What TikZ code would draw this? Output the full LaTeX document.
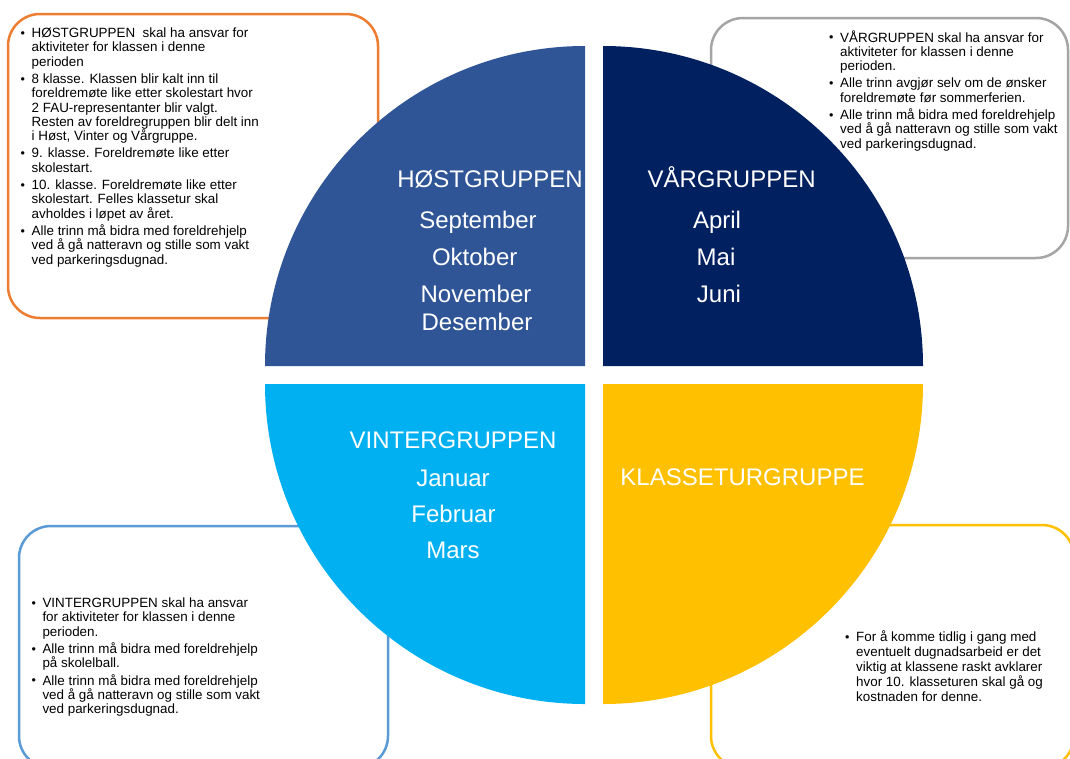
\documentclass[tikz,border=0pt]{standalone}
\usepackage{fontspec}
\setmainfont{Liberation Sans}
\definecolor{cOrange}{HTML}{ED7D31}
\definecolor{cGray}{HTML}{A5A5A5}
\definecolor{cLblue}{HTML}{5B9BD5}
\definecolor{cYellow}{HTML}{FFC000}
\definecolor{qTL}{HTML}{2F5597}
\definecolor{qTR}{HTML}{002060}
\definecolor{qBL}{HTML}{00B0F0}
\definecolor{qBR}{HTML}{FFC000}
\newcommand\bitem{\par\hangindent=11pt\hangafter=1\noindent\makebox[11pt][l]{\raisebox{0.3pt}{\fontsize{12.5}{12}\selectfont •}}}
\newcommand\boxtext[3]{\begin{minipage}[t]{#1}\setlength\parskip{3pt}\fontsize{13.4}{#2}\selectfont #3\end{minipage}}
\tikzset{
  infobox/.style={line width=2.5pt, fill=white, rounded corners=32pt},
  bigtext/.style={anchor=base, inner sep=0pt, text=white, font=\fontsize{24}{28}\selectfont},
  smalltext/.style={anchor=base west, inner sep=0pt, text=black}
}
\begin{document}
\begin{tikzpicture}[x=1pt,y=1pt]
\useasboundingbox (0,0) rectangle (1070,-758);
\clip (0,0) rectangle (1070,-758);
\fill[white] (0,0) rectangle (1070,-758);

% info boxes
\draw[infobox, draw=cOrange] (8,-14) rectangle (378,-318);
\draw[infobox, draw=cGray] (711,-18) rectangle (1068,-258);
\draw[infobox, draw=cLblue] (19,-526) rectangle (388,-768);
\draw[infobox, draw=cYellow] (711,-525) rectangle (1074,-768);

% quadrants
\fill[qTL] (585,-366) -- (265,-366) arc[start angle=180, end angle=90, radius=320] -- cycle;
\fill[qTR] (603,-366) -- (603,-46) arc[start angle=90, end angle=0, radius=320] -- cycle;
\fill[qBL] (585,-384) -- (265,-384) arc[start angle=180, end angle=270, radius=320] -- cycle;
\fill[qBR] (603,-384) -- (923,-384) arc[start angle=0, end angle=-90, radius=320] -- cycle;

% quadrant texts
\node[bigtext] (hostT) at (490,-187.3) {HØSTGRUPPEN};
\node[bigtext] (sep) at (478,-228.3) {September};
\node[bigtext] (okt) at (474.7,-265) {Oktober};
\node[bigtext] (nov) at (476,-302.7) {November};
\node[bigtext] (des) at (477,-330) {Desember};

\node[bigtext] (varT) at (731.6,-187.3) {VÅRGRUPPEN};
\node[bigtext] (apr) at (717,-228.3) {April};
\node[bigtext] (mai) at (716,-265) {Mai};
\node[bigtext] (jun) at (719,-302.7) {Juni};

\node[bigtext] (vinT) at (453,-448.3) {VINTERGRUPPEN};
\node[bigtext] (jan) at (453,-486) {Januar};
\node[bigtext] (feb) at (453.5,-522.3) {Februar};
\node[bigtext] (mar) at (453,-558.3) {Mars};

\node[bigtext] (klaT) at (742.5,-485.7) {KLASSETURGRUPPE};

% box texts
\node[smalltext] (hostbox) at (20.5,-37.5) {\boxtext{340pt}{14.3}{%
\bitem HØSTGRUPPEN\ \ skal ha ansvar for\\aktiviteter for klassen i denne\\perioden
\bitem 8 klasse. Klassen blir kalt inn til\\foreldremøte like etter skolestart hvor\\2 FAU-representanter blir valgt.\\Resten av foreldregruppen blir delt inn\\i Høst, Vinter og Vårgruppe.
\bitem 9. klasse. Foreldremøte like etter\\skolestart.
\bitem 10. klasse. Foreldremøte like etter\\skolestart. Felles klassetur skal\\avholdes i løpet av året.
\bitem Alle trinn må bidra med foreldrehjelp\\ved å gå natteravn og stille som vakt\\ved parkeringsdugnad.}};

\node[smalltext] (varbox) at (829,-42) {\boxtext{240pt}{14.3}{%
\bitem VÅRGRUPPEN skal ha ansvar for\\aktiviteter for klassen i denne\\perioden.
\bitem Alle trinn avgjør selv om de ønsker\\foreldremøte før sommerferien.
\bitem Alle trinn må bidra med foreldrehjelp\\ved å gå natteravn og stille som vakt\\ved parkeringsdugnad.}};

\node[smalltext] (vinbox) at (31.3,-607.5) {\boxtext{300pt}{14.3}{%
\bitem VINTERGRUPPEN skal ha ansvar\\for aktiviteter for klassen i denne\\perioden.
\bitem Alle trinn må bidra med foreldrehjelp\\på skolelball.
\bitem Alle trinn må bidra med foreldrehjelp\\ved å gå natteravn og stille som vakt\\ved parkeringsdugnad.}};

\node[smalltext] (klabox) at (845,-641.5) {\boxtext{220pt}{15}{%
\bitem For å komme tidlig i gang med\\eventuelt dugnadsarbeid er det\\viktig at klassene raskt avklarer\\hvor 10. klasseturen skal gå og\\kostnaden for denne.}};
\end{tikzpicture}
\end{document}
